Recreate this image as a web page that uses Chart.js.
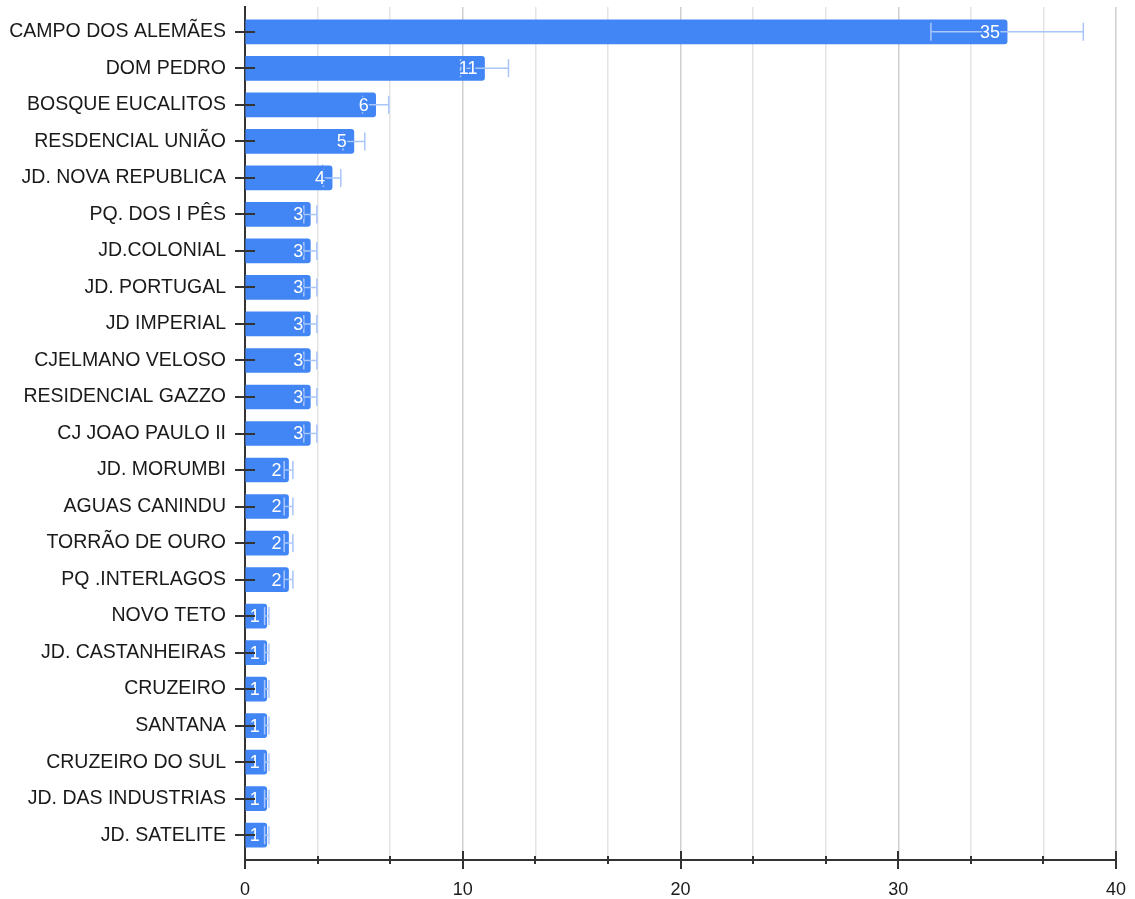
<!DOCTYPE html>
<html>
<head>
<meta charset="utf-8">
<title>Bairros</title>
<script src="https://cdn.jsdelivr.net/npm/chart.js@4.4.1/dist/chart.umd.min.js"></script>
<style>
  html, body { margin: 0; padding: 0; background: #fff; }
  #wrap { width: 1135px; height: 899px; }
</style>
</head>
<body>
<div id="wrap"><canvas id="barChart"></canvas></div>
<script>
var bairros = [
    "CAMPO DOS ALEMÃES",
    "DOM PEDRO",
    "BOSQUE EUCALITOS",
    "RESDENCIAL UNIÃO",
    "JD. NOVA REPUBLICA",
    "PQ. DOS I PÊS",
    "JD.COLONIAL",
    "JD. PORTUGAL",
    "JD IMPERIAL",
    "CJELMANO VELOSO",
    "RESIDENCIAL GAZZO",
    "CJ JOAO PAULO II",
    "JD. MORUMBI",
    "AGUAS CANINDU",
    "TORRÃO DE OURO",
    "PQ .INTERLAGOS",
    "NOVO TETO",
    "JD. CASTANHEIRAS",
    "CRUZEIRO",
    "SANTANA",
    "CRUZEIRO DO SUL",
    "JD. DAS INDUSTRIAS",
    "JD. SATELITE",
];
var totais = [35, 11, 6, 5, 4, 3, 3, 3, 3, 3, 3, 3, 2, 2, 2, 2, 1, 1, 1, 1, 1, 1, 1];

// error bars are a percentage of each value
var erroPct = 10;

// x axis: labelled steps, with minor divisions between them
var xTickLabels = ["0", "10", "20", "30", "40"];
var xStep = 10;
var xMinor = 3;

var azul = "#4285f4";
var azulClaro = "#a8c6fa";
var fonte = '"Liberation Sans", Arial, sans-serif';

var enfeites = {
    id: "enfeites",
    afterDatasetsDraw: function (chart) {
        var ctx = chart.ctx;
        var x = chart.scales.x;
        var barras = chart.getDatasetMeta(0).data;
        ctx.save();

        // whiskers
        ctx.strokeStyle = azulClaro;
        ctx.lineWidth = 1.5;
        totais.forEach(function (v, i) {
            var yc = barras[i].y;
            var lo = x.getPixelForValue(v * (1 - erroPct / 100));
            var hi = x.getPixelForValue(v * (1 + erroPct / 100));
            ctx.beginPath();
            ctx.moveTo(lo, yc); ctx.lineTo(hi, yc);
            ctx.moveTo(lo, yc - 9); ctx.lineTo(lo, yc + 9);
            ctx.moveTo(hi, yc - 9); ctx.lineTo(hi, yc + 9);
            ctx.stroke();
        });

        // value labels at the end of each bar
        ctx.font = "18px " + fonte;
        ctx.textAlign = "right";
        ctx.textBaseline = "middle";
        ctx.lineWidth = 3;
        ctx.strokeStyle = azul;
        ctx.fillStyle = "#ffffff";
        totais.forEach(function (v, i) {
            var bx = barras[i].x - 7;
            var by = barras[i].y + 1;
            ctx.strokeText(String(v), bx, by);
            ctx.fillText(String(v), bx, by);
        });
        ctx.restore();
    },
    afterDraw: function (chart) {
        // tick marks that cross the axis lines
        var ctx = chart.ctx;
        var x = chart.scales.x;
        var y = chart.scales.y;
        var area = chart.chartArea;
        ctx.save();
        ctx.strokeStyle = "#333333";
        ctx.lineWidth = 2;
        ctx.beginPath();
        y.ticks.forEach(function (t) {
            var py = Math.round(y.getPixelForValue(t.value));
            ctx.moveTo(area.left - 10, py);
            ctx.lineTo(area.left + 10, py);
        });
        x.ticks.forEach(function (t, i) {
            var px = Math.round(x.getPixelForValue(t.value));
            var len = i % xMinor === 0 ? 9 : 4;
            ctx.moveTo(px, area.bottom - len);
            ctx.lineTo(px, area.bottom + len);
        });
        ctx.stroke();
        ctx.restore();
    },
};

var xMax = xStep * (xTickLabels.length - 1);

new Chart(document.getElementById("barChart"), {
    type: "bar",
    data: {
        datasets: [
            {
                data: totais.map(function (v, i) {
                    return { x: v, y: i };
                }),
                backgroundColor: azul,
                borderRadius: 3,
                barThickness: 24,
            },
        ],
    },
    options: {
        indexAxis: "y",
        responsive: true,
        maintainAspectRatio: false,
        animation: false,
        layout: {
            padding: { top: 7, right: 19, left: 0, bottom: 0 },
        },
        plugins: {
            legend: { display: false },
            tooltip: { enabled: false },
        },
        scales: {
            x: {
                type: "linear",
                min: 0,
                max: xMax,
                afterBuildTicks: function (scale) {
                    var n = (xTickLabels.length - 1) * xMinor;
                    var ticks = [];
                    for (var i = 0; i <= n; i++) {
                        ticks.push({ value: (i * xStep) / xMinor });
                    }
                    scale.ticks = ticks;
                },
                afterFit: function (scale) {
                    scale.height = 39;
                    scale.paddingLeft = 0;
                    scale.paddingRight = 0;
                },
                ticks: {
                    autoSkip: false,
                    maxRotation: 0,
                    padding: 19,
                    color: "#1a1a1a",
                    font: { family: fonte, size: 18 },
                    callback: function (value, index) {
                        return index % xMinor === 0 ? xTickLabels[index / xMinor] : "";
                    },
                },
                grid: {
                    drawTicks: false,
                    color: function (c) {
                        return c.index % xMinor === 0 ? "#cfcfcf" : "#e4e4e4";
                    },
                    lineWidth: 1.5,
                },
                border: { display: true, color: "#333333", width: 2 },
            },
            y: {
                type: "linear",
                reverse: true,
                offset: false,
                min: -0.68,
                max: bairros.length - 1 + 0.68,
                afterBuildTicks: function (scale) {
                    scale.ticks = bairros.map(function (b, i) {
                        return { value: i };
                    });
                },
                afterFit: function (scale) {
                    scale.width = 245;
                    scale.paddingTop = 0;
                    scale.paddingBottom = 0;
                },
                ticks: {
                    autoSkip: false,
                    padding: 19,
                    color: "#1a1a1a",
                    font: { family: fonte, size: 19.5 },
                    callback: function (value) {
                        return bairros[value];
                    },
                },
                grid: { drawOnChartArea: false, drawTicks: false, offset: false },
                border: { display: true, color: "#333333", width: 2 },
            },
        },
    },
    plugins: [enfeites],
});
</script>
</body>
</html>
